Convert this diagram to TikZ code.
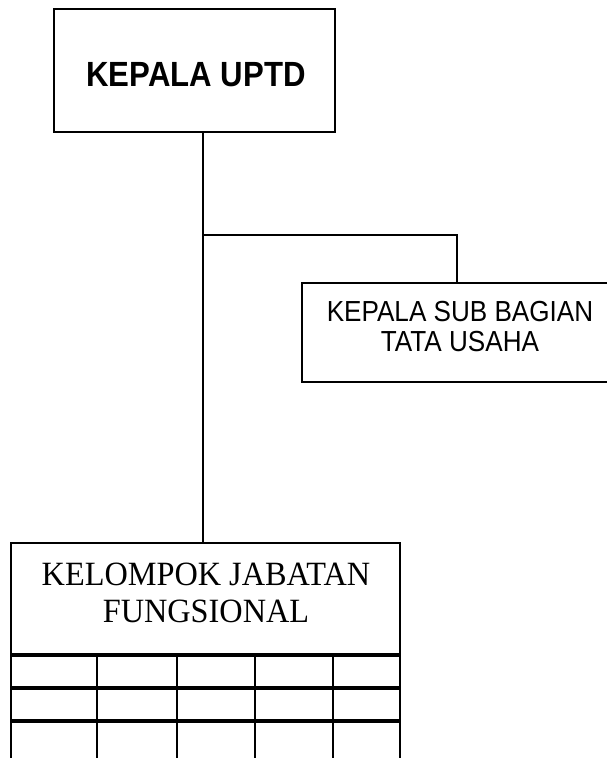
\documentclass[tikz,border=0pt]{standalone}
\usepackage{fontspec}
\setmainfont{Liberation Serif}
\newfontfamily\topfont[FakeStretch=0.89]{Liberation Sans}
\newfontfamily\subfont[FakeStretch=0.9]{Liberation Sans}
\newfontfamily\botfont[FakeStretch=0.95]{Liberation Serif}
\begin{document}
\begin{tikzpicture}[x=1pt,y=-1pt,
  box/.style={draw, line width=1.8pt, inner sep=0pt},
  conn/.style={line width=1.8pt},
  grid thin/.style={line width=1.8pt},
  grid thick/.style={line width=4pt},
  txt/.style={anchor=base, inner sep=0pt}]
\useasboundingbox (0,0) rectangle (607,758);
\clip (0,0) rectangle (607,758);
% boxes
\node[box, minimum width=281pt, minimum height=123pt] (kepala) at (194.5,70.5) {};
\node[txt, font=\topfont\bfseries\fontsize{35}{40}\selectfont] (kepalatxt) at (196,86.7) {KEPALA UPTD};
\node[box, minimum width=316pt, minimum height=99pt] (sub) at (460,332.5) {};
\node[txt, font=\subfont\fontsize{29}{33}\selectfont] (subtxt1) at (460,321) {KEPALA SUB BAGIAN};
\node[txt, font=\subfont\fontsize{29}{33}\selectfont] (subtxt2) at (460,351) {TATA USAHA};
\node[box, minimum width=389pt, minimum height=112pt] (kjf) at (205.5,599) {};
\node[txt, font=\botfont\fontsize{34}{38}\selectfont] (kjftxt1) at (206,585) {KELOMPOK JABATAN};
\node[txt, font=\botfont\fontsize{34}{38}\selectfont] (kjftxt2) at (206,622) {FUNGSIONAL};
% connectors
\coordinate (jx) at (203,235);
\coordinate (jr) at (457,235);
\draw[conn] (kepala.south -| jx) -- (kjf.north -| jx);
\draw[conn] (jx) -- (jr) -- (sub.north -| jr);
% table below the functional group box
\foreach \x in {11,97,177,255,333,400}
  \draw[grid thin] (\x,655) -- (\x,770);
\foreach \y in {655,688,721}
  \draw[grid thick] (11,\y) -- (400,\y);
\end{tikzpicture}
\end{document}
